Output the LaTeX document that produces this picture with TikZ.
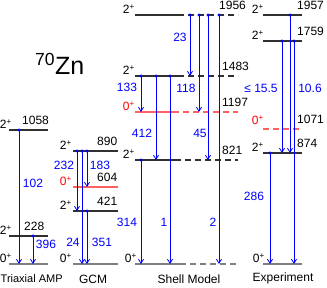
\documentclass[tikz,border=0pt]{standalone}
\usepackage{fontspec}
\setmainfont{Liberation Sans}
\usetikzlibrary{arrows.meta, positioning, calc}
\definecolor{gamBlue} {HTML}{0000FF}
\definecolor{zeroRed} {HTML}{FF0000}
\definecolor{zeroLine}{HTML}{FF6060}
\definecolor{gndGray} {HTML}{808080}
\definecolor{lvlInk}  {HTML}{303030}

\begin{document}
\begin{tikzpicture}[
    x=1pt, y=1pt,
    font=\fontsize{12}{14}\selectfont,
    lvl/.style={draw=lvlInk, line width=1.1pt},
    gnd/.style={draw=gndGray, line width=1.6pt},
    zero/.style={draw=zeroLine, line width=1.1pt},
    brk/.style={dash pattern=on 6pt off 4pt},
    gam/.style={draw=gamBlue, line width=0.8pt, shorten <=-1.5pt,
                {Circle[length=3pt]}-{Straight Barb[length=4pt, width=5pt]}},
    spin/.style={anchor=base east, inner sep=0pt},
    spinzero/.style={spin, text=zeroRed},
    en/.style={anchor=base west, inner sep=0pt},
    eg/.style={text=gamBlue, inner sep=0pt},
    title/.style={inner sep=0pt},
  ]
    \useasboundingbox (0,0) rectangle (327,288);

    \node[title, anchor=base west, font=\fontsize{25}{30}\selectfont] (zn) at (35,213) {\textsuperscript{70}Zn};

    % Triaxial AMP
    \coordinate (t1058) at (9,158);
    \coordinate (t228) at (9,52);
    \coordinate (t0) at (9,24);
    \draw[lvl] (t1058) -- ++(39,0);
    \draw[lvl] (t228) -- ++(39,0);
    \draw[gnd] (t0) -- ++(39,0);
    \node[spin] (t1058s) at ([xshift=3pt, yshift=1pt]t1058) {2\textsuperscript{+}};
    \node[spin] (t228s) at ([xshift=3pt, yshift=1pt]t228) {2\textsuperscript{+}};
    \node[spin] (t0s) at ([xshift=3pt, yshift=1pt]t0) {0\textsuperscript{+}};
    \node[en] (t1058e) at ([xshift=13pt, yshift=5pt]t1058) {1058};
    \node[en] (t228e) at ([xshift=15pt, yshift=5pt]t228) {228};
    \draw[gam] ([xshift=10pt]t1058) -- ([xshift=10pt]t0);
    \draw[gam] ([xshift=24pt]t228) -- ([xshift=24pt]t0);
    \node[eg] (t102) at (33,105) {102};
    \node[eg] (t396) at (46,44) {396};
    \node[title, anchor=west, font=\fontsize{11}{13}\selectfont] (tname) at (0.5,9) {Triaxial AMP};

    % GCM
    \coordinate (g890) at (73,137);
    \coordinate (g604) at (73,101);
    \coordinate (g421) at (73,77);
    \coordinate (g0) at (73,24);
    \draw[lvl] (g890) -- ++(45,0);
    \draw[zero] (g604) -- ++(45,0);
    \draw[lvl] (g421) -- ++(45,0);
    \draw[gnd] (g0) -- ++(45,0);
    \node[spin] (g890s) at ([xshift=-1pt, yshift=1pt]g890) {2\textsuperscript{+}};
    \node[spinzero] (g604s) at ([xshift=-1pt, yshift=1pt]g604) {0\textsuperscript{+}};
    \node[spin] (g421s) at ([xshift=-1pt, yshift=1pt]g421) {2\textsuperscript{+}};
    \node[spin] (g0s) at ([xshift=-1pt, yshift=1pt]g0) {0\textsuperscript{+}};
    \node[en] (g890e) at ([xshift=24pt, yshift=5pt]g890) {890};
    \node[en] (g604e) at ([xshift=24pt, yshift=5pt]g604) {604};
    \node[en] (g421e) at ([xshift=24pt, yshift=5pt]g421) {421};
    \draw[gam] ([xshift=4pt]g890) -- ([xshift=4pt]g421);
    \draw[gam] ([xshift=9pt]g890) -- ([xshift=9pt]g0);
    \draw[gam] ([xshift=14pt]g890) -- ([xshift=14pt]g604);
    \draw[gam] ([xshift=14pt]g421) -- ([xshift=14pt]g0);
    \node[eg] (g232) at (64,123) {232};
    \node[eg] (g183) at (100,123) {183};
    \node[eg] (g24) at (73,46) {24};
    \node[eg] (g351) at (102,46) {351};
    \node[title] (gname) at (93,9) {GCM};

    % Shell Model
    \coordinate (s1956) at (135,273);
    \coordinate (s1483) at (135,212);
    \coordinate (s1197) at (135,176);
    \coordinate (s821) at (135,128);
    \coordinate (s0) at (135,24);
    \draw[lvl] (s1956) -- ++(43,0) coordinate (s1956m);
    \draw[lvl, brk] (s1956m) -- ++(60,0);
    \draw[lvl] (s1483) -- ++(43,0) coordinate (s1483m);
    \draw[lvl, brk] (s1483m) -- ++(60,0);
    \draw[zero] (s1197) -- ++(38,0) coordinate (s1197m);
    \draw[zero, brk] (s1197m) -- ++(65,0);
    \draw[lvl] (s821) -- ++(40,0) coordinate (s821m);
    \draw[lvl, brk] (s821m) -- ++(63,0);
    \draw[gnd] (s0) -- ++(45,0) coordinate (s0m);
    \draw[gnd, brk] (s0m) -- ++(58,0);
    \node[spin] (s1956s) at ([yshift=1pt]s1956) {2\textsuperscript{+}};
    \node[spin] (s1483s) at ([yshift=1pt]s1483) {2\textsuperscript{+}};
    \node[spinzero] (s1197s) at ([yshift=1pt]s1197) {0\textsuperscript{+}};
    \node[spin] (s821s) at ([yshift=1pt]s821) {2\textsuperscript{+}};
    \node[spin] (s0s) at ([xshift=2pt, yshift=1pt]s0) {0\textsuperscript{+}};
    \node[en] (s1956e) at ([xshift=84pt, yshift=5pt]s1956) {1956};
    \node[en] (s1483e) at ([xshift=87pt, yshift=5pt]s1483) {1483};
    \node[en] (s1197e) at ([xshift=87pt, yshift=5pt]s1197) {1197};
    \node[en] (s821e) at ([xshift=87pt, yshift=5pt]s821) {821};
    \draw[gam] ([xshift=55pt]s1956) -- ([xshift=55pt]s1483);
    \draw[gam] ([xshift=64pt]s1956) -- ([xshift=64pt]s1197);
    \draw[gam] ([xshift=73pt]s1956) -- ([xshift=73pt]s821);
    \draw[gam] ([xshift=84pt]s1956) -- ([xshift=84pt]s0);
    \draw[gam] ([xshift=6pt]s1483) -- ([xshift=6pt]s1197);
    \draw[gam] ([xshift=21pt]s1483) -- ([xshift=21pt]s821);
    \draw[gam] ([xshift=35pt]s1483) -- ([xshift=35pt]s0);
    \draw[gam] ([xshift=6pt]s821) -- ([xshift=6pt]s0);
    \node[eg] (s23) at (180,251) {23};
    \node[eg] (s118) at (186,200) {118};
    \node[eg] (s133) at (127,201) {133};
    \node[eg] (s412) at (142,155) {412};
    \node[eg] (s45) at (200,155) {45};
    \node[eg] (s314) at (127,66) {314};
    \node[eg] (s1) at (164,66) {1};
    \node[eg] (s2) at (213,66) {2};
    \node[title] (sname) at (189,9) {Shell Model};

    % Experiment
    \coordinate (e1957) at (263,273);
    \coordinate (e1759) at (263,247);
    \coordinate (e1071) at (263,159);
    \coordinate (e874) at (263,135);
    \coordinate (e0) at (263,24);
    \draw[lvl] (e1957) -- ++(39,0);
    \draw[lvl] (e1759) -- ++(39,0);
    \draw[zero, brk] (e1071) -- ++(39,0);
    \draw[lvl] (e874) -- ++(39,0);
    \draw[gnd] (e0) -- ++(39,0);
    \node[spin] (e1957s) at ([xshift=1pt, yshift=1pt]e1957) {2\textsuperscript{+}};
    \node[spin] (e1759s) at ([xshift=1pt, yshift=1pt]e1759) {2\textsuperscript{+}};
    \node[spinzero] (e1071s) at ([xshift=1pt, yshift=4pt]e1071) {0\textsuperscript{+}};
    \node[spin] (e874s) at ([xshift=1pt, yshift=1pt]e874) {2\textsuperscript{+}};
    \node[spin] (e0s) at ([xshift=2pt, yshift=1pt]e0) {0\textsuperscript{+}};
    \node[en] (e1957e) at ([xshift=34pt, yshift=5pt]e1957) {1957};
    \node[en] (e1759e) at ([xshift=34pt, yshift=5pt]e1759) {1759};
    \node[en] (e1071e) at ([xshift=34pt, yshift=5pt]e1071) {1071};
    \node[en] (e874e) at ([xshift=34pt, yshift=5pt]e874) {874};
    \draw[gam] ([xshift=27pt]e1957) -- ([xshift=27pt]e874);
    \draw[gam] ([xshift=19pt]e1759) -- ([xshift=19pt]e874);
    \draw[gam] ([xshift=31pt]e1759) -- ([xshift=31pt]e0);
    \draw[gam] ([xshift=7pt]e874) -- ([xshift=7pt]e0);
    \node[eg] (e155) at (261,200) {≤ 15.5};
    \node[eg] (e106) at (310,200) {10.6};
    \node[eg] (e286) at (254,92) {286};
    \node[title] (ename) at (283,10) {Experiment};
\end{tikzpicture}
\end{document}
